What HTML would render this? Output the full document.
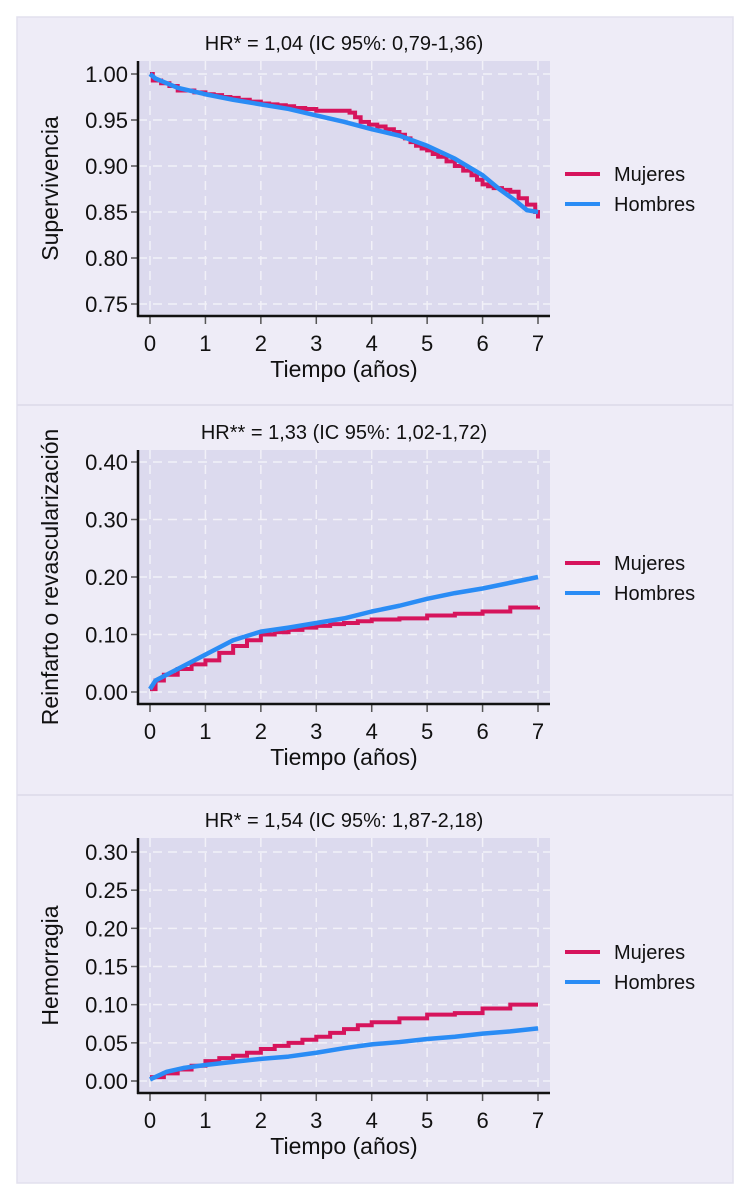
<!DOCTYPE html>
<html><head><meta charset="utf-8"><style>
html,body{margin:0;padding:0;background:#fff;}
svg{display:block;font-family:"Liberation Sans",Arial,sans-serif;}
</style></head><body>
<svg id="fig" width="750" height="1200" viewBox="0 0 750 1200" xmlns="http://www.w3.org/2000/svg">
<rect x="17" y="17" width="716" height="1166" fill="#eeecf7" stroke="#e2e0ee" stroke-width="1.5"/>
<line x1="17" y1="405" x2="733" y2="405" stroke="#e0deec" stroke-width="2"/>
<line x1="17" y1="795" x2="733" y2="795" stroke="#e0deec" stroke-width="2"/>
</svg>
<script>
// Panel 1: Supervivencia
const p1MujT=[0,0.05,0.2,0.35,0.5,0.8,1,1.15,1.3,1.45,1.6,1.8,2,2.15,2.3,2.45,2.6,2.8,3,3.3,3.6,3.7,3.8,3.95,4.1,4.25,4.4,4.5,4.6,4.7,4.8,4.9,5,5.1,5.2,5.35,5.5,5.65,5.8,5.9,6,6.1,6.2,6.35,6.5,6.65,6.8,6.95,7];
const p1MujV=[1,0.993,0.99,0.987,0.982,0.98,0.978,0.977,0.975,0.974,0.972,0.97,0.968,0.967,0.966,0.965,0.963,0.962,0.96,0.96,0.958,0.953,0.948,0.945,0.943,0.94,0.937,0.934,0.93,0.926,0.922,0.919,0.917,0.913,0.91,0.905,0.9,0.895,0.89,0.885,0.88,0.878,0.876,0.874,0.872,0.865,0.858,0.85,0.843];
const p1HomT=[0,0.1,0.5,1,1.5,2,2.5,3,3.5,4,4.5,5,5.5,6,6.3,6.6,6.8,7];
const p1HomV=[1,0.995,0.985,0.978,0.972,0.967,0.962,0.955,0.948,0.94,0.933,0.922,0.908,0.89,0.875,0.862,0.852,0.85];
const p1Ticks=["0.75","0.80","0.85","0.90","0.95","1.00"];
// Panel 2: Reinfarto o revascularización
const p2MujT=[0,0.1,0.25,0.5,0.75,1,1.25,1.5,1.75,2,2.25,2.5,2.75,3,3.25,3.5,3.75,4,4.5,5,5.5,6,6.5,7];
const p2MujV=[0.005,0.02,0.03,0.04,0.048,0.055,0.068,0.08,0.09,0.1,0.104,0.108,0.112,0.115,0.118,0.12,0.123,0.126,0.128,0.133,0.136,0.14,0.147,0.148];
const p2HomT=[0,0.1,0.5,1,1.5,2,2.5,3,3.5,4,4.5,5,5.5,6,6.5,7];
const p2HomV=[0.005,0.02,0.04,0.065,0.09,0.105,0.112,0.12,0.128,0.14,0.15,0.162,0.172,0.18,0.19,0.2];
const p2Ticks=["0.00","0.10","0.20","0.30","0.40"];
// Panel 3: Hemorragia
const p3MujT=[0,0.25,0.5,0.75,1,1.25,1.5,1.75,2,2.25,2.5,2.75,3,3.25,3.5,3.75,4,4.5,5,5.5,6,6.5,7];
const p3MujV=[0.005,0.01,0.015,0.02,0.026,0.03,0.033,0.037,0.042,0.046,0.05,0.054,0.058,0.063,0.068,0.073,0.077,0.082,0.087,0.089,0.095,0.1,0.1];
const p3HomT=[0,0.3,0.6,1,1.5,2,2.5,3,3.5,4,4.5,5,5.5,6,6.5,7];
const p3HomV=[0.002,0.012,0.017,0.021,0.025,0.029,0.032,0.037,0.043,0.048,0.051,0.055,0.058,0.062,0.065,0.069];
const p3Ticks=["0.00","0.05","0.10","0.15","0.20","0.25","0.30"];
const xTicks=[0,1,2,3,4,5,6,7];
const seriesNames=["Mujeres","Hombres"];

const NS="http://www.w3.org/2000/svg";
const svg=document.getElementById('fig');
const PINK="#d6145c", BLUE="#2a8cf5";
function mk(tag,attrs,parent){const e=document.createElementNS(NS,tag);for(const k in attrs)e.setAttribute(k,attrs[k]);(parent||svg).appendChild(e);return e;}

const panels=[
 {title:"HR* = 1,04 (IC 95%: 0,79-1,36)",ylab:"Supervivencia",top:61,bot:316,y0v:0.75,y0:304,y1v:1.0,y1:74,ticks:p1Ticks,mt:p1MujT,mv:p1MujV,ht:p1HomT,hv:p1HomV,leg:174,name:"supervivencia"},
 {title:"HR** = 1,33 (IC 95%: 1,02-1,72)",ylab:"Reinfarto o revascularización",top:450,bot:704,y0v:0,y0:692,y1v:0.4,y1:462,ticks:p2Ticks,mt:p2MujT,mv:p2MujV,ht:p2HomT,hv:p2HomV,leg:563,name:"reinfarto"},
 {title:"HR* = 1,54 (IC 95%: 1,87-2,18)",ylab:"Hemorragia",top:838,bot:1093,y0v:0,y0:1081,y1v:0.3,y1:852,ticks:p3Ticks,mt:p3MujT,mv:p3MujV,ht:p3HomT,hv:p3HomV,leg:952,name:"hemorragia"}
];
const L=138,R=550;
function xs(t){return 150+t*(538-150)/7;}
panels.forEach((p,i)=>{
 const g=mk('g',{});
 
 
 const ys=v=>p.y0+(v-p.y0v)*(p.y1-p.y0)/(p.y1v-p.y0v);
 const bg=mk('rect',{x:L,y:p.top,width:R-L,height:p.bot-p.top,fill:"#dcdaee"},g);
 
 
 p.ticks.forEach(t=>{const y=ys(parseFloat(t));
  const gl=mk('line',{x1:L,x2:R,y1:y,y2:y,stroke:"#f2f1f8","stroke-width":1.5,"stroke-dasharray":"9 6"},g);
  
  
  const tk=mk('line',{x1:L-7,x2:L,y1:y,y2:y,stroke:"#555","stroke-width":1.5},g);
  
  
  const tl=mk('text',{x:L-10,y:y+8,"text-anchor":"end","font-size":22,fill:"#111"},g);tl.textContent=t;
  
  
 });
 xTicks.forEach(t=>{const x=xs(t);
  const gl=mk('line',{x1:x,x2:x,y1:p.top,y2:p.bot,stroke:"#f2f1f8","stroke-width":1.5,"stroke-dasharray":"9 6"},g);
  
  
  const tk=mk('line',{x1:x,x2:x,y1:p.bot,y2:p.bot+8,stroke:"#555","stroke-width":1.5},g);
  
  
  const tl=mk('text',{x:x,y:p.bot+35,"text-anchor":"middle","font-size":22,fill:"#111"},g);tl.textContent=t;
  
  
 });
 let d="";p.mt.forEach((t,k)=>{d+=(k?"H"+xs(t)+"V"+ys(p.mv[k]):"M"+xs(t)+","+ys(p.mv[k]));});
 const m=mk('path',{d:d,fill:"none",stroke:PINK,"stroke-width":4,"stroke-linejoin":"miter"},g);
 
 
 let d2="";p.ht.forEach((t,k)=>{d2+=(k?"L":"M")+xs(t)+","+ys(p.hv[k]);});
 const h=mk('path',{d:d2,fill:"none",stroke:BLUE,"stroke-width":4.5,"stroke-linejoin":"round"},g);
 
 
 const ya=mk('line',{x1:L,x2:L,y1:p.top,y2:p.bot+1,stroke:"#111","stroke-width":2.5},g);
 
 
 const xa=mk('line',{x1:L-1,x2:R,y1:p.bot,y2:p.bot,stroke:"#111","stroke-width":2.5},g);
 
 
 const ti=mk('text',{x:344,y:p.top-11,"text-anchor":"middle","font-size":20,fill:"#111"},g);ti.textContent=p.title;
 
 
 const xt=mk('text',{x:344,y:p.bot+61,"text-anchor":"middle","font-size":23,fill:"#111"},g);xt.textContent="Tiempo (años)";
 
 
 const cy=(p.top+p.bot)/2;
 const yt=mk('text',{x:0,y:0,"text-anchor":"middle","font-size":23,fill:"#111",transform:"translate(58,"+cy+") rotate(-90)"},g);yt.textContent=p.ylab;
 
 
 [PINK,BLUE].forEach((c,k)=>{const y=p.leg+k*30;
  const ll=mk('line',{x1:565,x2:600,y1:y,y2:y,stroke:c,"stroke-width":4},g);
  
  
  const lt=mk('text',{x:614,y:y+7,"font-size":20,fill:"#111"},g);lt.textContent=seriesNames[k];
  
  
 });
});
</script>
</body></html>
